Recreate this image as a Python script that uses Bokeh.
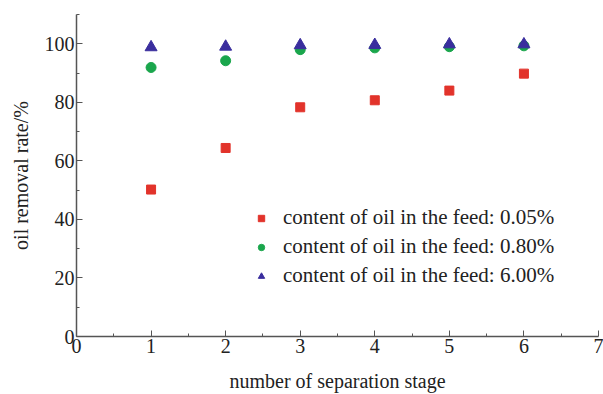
from bokeh.plotting import figure
from bokeh.models import Range1d, Legend, LegendItem, FixedTicker
from bokeh.embed import file_html
from bokeh.resources import INLINE

stages = [1, 2, 3, 4, 5, 6]
oil_005 = [50.2, 64.4, 78.3, 80.7, 84.0, 89.8]
oil_080 = [91.9, 94.2, 98.0, 98.6, 99.0, 99.3]
oil_600 = [98.8, 99.0, 99.5, 99.6, 99.8, 99.8]
labels = ["content of oil in the feed: 0.05%",
          "content of oil in the feed: 0.80%",
          "content of oil in the feed: 6.00%"]
x_ticks = [0, 1, 2, 3, 4, 5, 6, 7]
y_ticks = [0, 20, 40, 60, 80, 100]

FONT = "Liberation Serif"
AXC = "#555555"

p = figure(width=603, height=394, output_backend="svg", toolbar_location=None,
           x_range=Range1d(0, 7), y_range=Range1d(0, 110),
           min_border_left=76, min_border_right=5, min_border_top=14, min_border_bottom=55)
p.outline_line_color = None
p.grid.visible = False
p.background_fill_color = "white"
p.border_fill_color = "white"

r1 = p.scatter(stages, oil_005, marker="square", size=9, color="#e2332b")
r2 = p.scatter(stages, oil_080, marker="circle", size=10, color="#1aa64c")
r3 = p.scatter(stages, oil_600, marker="triangle", size=12, color="#3a2e9e")

for ax in (p.xaxis[0], p.yaxis[0]):
    ax.axis_line_color = AXC
    ax.axis_line_width = 1.5
    ax.major_tick_line_color = AXC
    ax.minor_tick_line_color = AXC
    ax.major_tick_in = 6
    ax.major_tick_out = 0
    ax.minor_tick_in = 3
    ax.minor_tick_out = 0
    ax.major_label_text_font = FONT
    ax.major_label_text_font_size = "20px"
    ax.major_label_text_color = "#222222"
    ax.axis_label_text_font = FONT
    ax.axis_label_text_font_size = "20px"
    ax.axis_label_text_font_style = "normal"
    ax.axis_label_text_color = "#222222"

p.xaxis.ticker = FixedTicker(ticks=x_ticks, minor_ticks=[0.5 + i for i in range(7)])
p.yaxis.ticker = FixedTicker(ticks=y_ticks, minor_ticks=[10, 30, 50, 70, 90, 110])
p.xaxis.axis_label = "number of separation stage"
p.yaxis.axis_label = "oil removal rate/%"
p.xaxis.major_label_standoff = 2
p.yaxis.major_label_standoff = 2
p.xaxis.axis_label_standoff = 14
p.yaxis.axis_label_standoff = 10

legend = Legend(items=[LegendItem(label=labels[0], renderers=[r1]),
                       LegendItem(label=labels[1], renderers=[r2]),
                       LegendItem(label=labels[2], renderers=[r3])],
                location=(177, 48), border_line_color=None, background_fill_alpha=0,
                padding=0, margin=0, spacing=4, glyph_width=16, glyph_height=16,
                label_standoff=14, label_text_font=FONT, label_text_font_size="21px",
                label_text_color="#222222")
p.add_layout(legend, "center")

open("out.html", "w").write(file_html(p, INLINE))
